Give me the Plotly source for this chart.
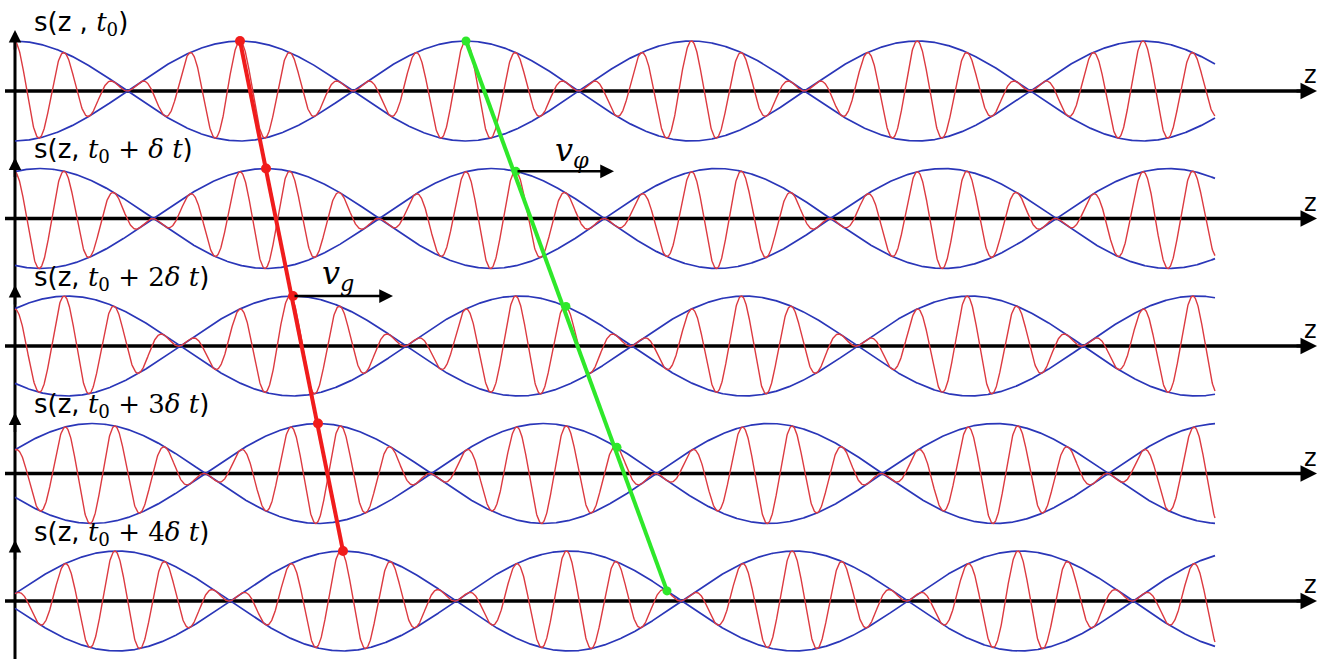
import numpy as np
import plotly.graph_objs as go

SERIF = "DejaVu Serif"


def it(txt):
    # italic serif piece inside a sans label
    return f'<span style="font-family:{SERIF}"><i>{txt}</i></span>'


def up(txt):
    return f'<span style="font-family:{SERIF}">{txt}</span>'


T0 = it("t") + up("<sub>0</sub>")
PLUS = up(" + ")

# one row per instant t0, t0+dt, ... (z in px-like units, amplitude 1 = envelope max)
ROW_LABELS = [
    f"s(z , {T0})",
    f"s(z, {T0}{PLUS}{it('δ t')})",
    f"s(z, {T0}{PLUS}{up('2')}{it('δ t')})",
    f"s(z, {T0}{PLUS}{up('3')}{it('δ t')})",
    f"s(z, {T0}{PLUS}{up('4')}{it('δ t')})",
]
GROUP_SHIFT = [0, 26, 53, 78, 103]     # envelope displacement
PHASE_SHIFT = [0, 50, 100, 151, 201]   # crest displacement
NODE_SPACING = 225.75                  # distance between envelope nodes
CARRIER_PER_LOBE = 4.5                 # carrier wavelengths per envelope lobe
ENVELOPE_PEAK = 225                    # first envelope maximum at t0
CREST = 451                            # carrier crest followed by the green line
Z_END = 1200

ROW_GAP = 2.55
BLUE = "#2a36b8"
RED = "#dc3a40"
THICK_RED = "#f01c1c"
GREEN = "#2ee82a"


def envelope(z, n):
    return np.cos(np.pi * (z - ENVELOPE_PEAK - GROUP_SHIFT[n]) / NODE_SPACING)


def carrier(z, n):
    wl = NODE_SPACING / CARRIER_PER_LOBE
    return np.cos(2 * np.pi * (z - ENVELOPE_PEAK - PHASE_SHIFT[n]) / wl)


def main():
    z = np.linspace(0, Z_END, 3001)
    fig = go.Figure()
    annotations = []

    # axes first so the curves sit over them
    fig.add_trace(go.Scatter(x=[0, 0], y=[-11.5, 1.1], mode="lines",
                             line=dict(color="black", width=3),
                             hoverinfo="skip"))
    for n in range(len(ROW_LABELS)):
        base = -n * ROW_GAP
        fig.add_trace(go.Scatter(x=[-10, 1290], y=[base, base], mode="lines",
                                 line=dict(color="black", width=3.5),
                                 hoverinfo="skip"))
        annotations.append(dict(x=1302, y=base, ax=1280, ay=base,
                                xref="x", yref="y", axref="x", ayref="y",
                                showarrow=True, arrowhead=2, arrowsize=1.1,
                                arrowwidth=3, arrowcolor="black", text=""))
        annotations.append(dict(x=0, y=base + 1.22, ax=0, ay=base + 0.8,
                                xref="x", yref="y", axref="x", ayref="y",
                                showarrow=True, arrowhead=2, arrowsize=1.0,
                                arrowwidth=2.5, arrowcolor="black", text=""))
        annotations.append(dict(x=1295, y=base + 0.32, xref="x", yref="y",
                                text="z", showarrow=False,
                                font=dict(size=24, color="black",
                                          family="DejaVu Sans")))
        annotations.append(dict(x=17, y=base + 1.36, xref="x", yref="y",
                                text=ROW_LABELS[n], showarrow=False,
                                xanchor="left", yanchor="middle",
                                font=dict(size=26, color="black",
                                          family="DejaVu Sans")))

    for n in range(len(ROW_LABELS)):
        base = -n * ROW_GAP
        env = envelope(z, n)
        s = env * carrier(z, n)
        fig.add_trace(go.Scatter(x=z, y=base + env, mode="lines",
                                 line=dict(color=BLUE, width=1.7),
                                 hoverinfo="skip"))
        fig.add_trace(go.Scatter(x=z, y=base - env, mode="lines",
                                 line=dict(color=BLUE, width=1.7),
                                 hoverinfo="skip"))
        fig.add_trace(go.Scatter(x=z, y=base + s, mode="lines",
                                 line=dict(color=RED, width=1.4),
                                 hoverinfo="skip"))

    # group velocity: envelope maximum; phase velocity: one crest
    rows = np.arange(len(ROW_LABELS))
    gx = np.array([ENVELOPE_PEAK + g for g in GROUP_SHIFT], dtype=float)
    gy = -rows * ROW_GAP + 1
    px = np.array([CREST + p for p in PHASE_SHIFT], dtype=float)
    py = np.array([-n * ROW_GAP + envelope(px[n], n) * carrier(px[n], n)
                   for n in rows])

    fig.add_trace(go.Scatter(x=[gx[0], gx[-1]], y=[gy[0], gy[-1]],
                             mode="lines", line=dict(color=THICK_RED, width=4),
                             hoverinfo="skip"))
    fig.add_trace(go.Scatter(x=gx, y=gy, mode="markers",
                             marker=dict(color=THICK_RED, size=10),
                             hoverinfo="skip"))
    fig.add_trace(go.Scatter(x=[px[0], px[-1]], y=[py[0], py[-1]],
                             mode="lines", line=dict(color=GREEN, width=4),
                             hoverinfo="skip"))
    fig.add_trace(go.Scatter(x=px, y=py, mode="markers",
                             marker=dict(color=GREEN, size=9),
                             hoverinfo="skip"))

    # velocity arrows
    annotations.append(dict(x=px[1] + 98, y=py[1], ax=px[1], ay=py[1],
                            xref="x", yref="y", axref="x", ayref="y",
                            showarrow=True, arrowhead=2, arrowsize=1.1,
                            arrowwidth=2.5, arrowcolor="black", text=""))
    annotations.append(dict(x=557, y=-ROW_GAP + 1.33, xref="x", yref="y",
                            text="<i>v</i><sub><i>φ</i></sub>", showarrow=False,
                            font=dict(size=32, color="black", family=SERIF)))
    annotations.append(dict(x=gx[2] + 100, y=gy[2], ax=gx[2], ay=gy[2],
                            xref="x", yref="y", axref="x", ayref="y",
                            showarrow=True, arrowhead=2, arrowsize=1.1,
                            arrowwidth=2.5, arrowcolor="black", text=""))
    annotations.append(dict(x=323, y=-2 * ROW_GAP + 1.42, xref="x", yref="y",
                            text="<i>v</i><sub><i>g</i></sub>", showarrow=False,
                            font=dict(size=32, color="black", family=SERIF)))

    fig.update_layout(
        width=1331, height=659,
        margin=dict(l=0, r=0, t=0, b=0),
        paper_bgcolor="white", plot_bgcolor="white",
        showlegend=False,
        annotations=annotations,
        xaxis=dict(range=[-15, 1316], visible=False, fixedrange=True),
        yaxis=dict(range=[-11.36, 1.82], visible=False, fixedrange=True),
    )
    # drop the page's default body margin so the figure sits at the window corner
    fig.write_html("out.html", config={"displayModeBar": False},
                   post_script="document.body.style.margin='0px';")


if __name__ == "__main__":
    main()
